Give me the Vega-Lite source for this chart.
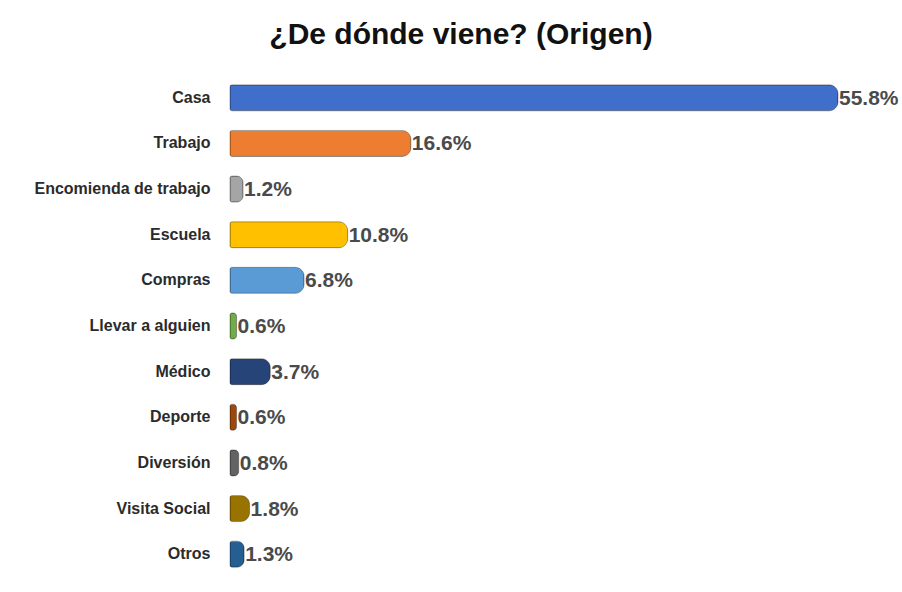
{
  "$schema": "https://vega.github.io/schema/vega-lite/v6.json",
  "width": 608,
  "height": 502,
  "autosize": {"type": "none"},
  "padding": {"left": 230, "top": 75, "right": 64, "bottom": 15},
  "background": "white",
  "config": {"view": {"stroke": null}},
  "title": {
    "text": "¿De dónde viene? (Origen)",
    "font": "Liberation Sans",
    "fontSize": 30,
    "fontWeight": "bold",
    "color": "#111111",
    "anchor": "middle",
    "dx": -73,
    "offset": 25
  },
  "data": {
    "values": [
      {"origen": "Casa", "pct": 0.558},
      {"origen": "Trabajo", "pct": 0.166},
      {"origen": "Encomienda de trabajo", "pct": 0.012},
      {"origen": "Escuela", "pct": 0.108},
      {"origen": "Compras", "pct": 0.068},
      {"origen": "Llevar a alguien", "pct": 0.006},
      {"origen": "Médico", "pct": 0.037},
      {"origen": "Deporte", "pct": 0.006},
      {"origen": "Diversión", "pct": 0.008},
      {"origen": "Visita Social", "pct": 0.018},
      {"origen": "Otros", "pct": 0.013}
    ]
  },
  "encoding": {
    "y": {
      "field": "origen",
      "type": "nominal",
      "sort": null,
      "scale": {"paddingInner": 0.43, "paddingOuter": 0.215},
      "axis": {
        "title": null,
        "ticks": false,
        "domain": false,
        "labelPadding": 20,
        "labelFont": "Liberation Sans",
        "labelFontSize": 16,
        "labelFontWeight": "bold",
        "labelColor": "#2b2b2b"
      }
    },
    "x": {
      "field": "pct",
      "type": "quantitative",
      "scale": {"domain": [0, 0.558], "nice": false},
      "axis": null
    }
  },
  "layer": [
    {
      "mark": {
        "type": "bar",
        "cornerRadiusTopRight": 9,
        "cornerRadiusBottomRight": 9,
        "cornerRadiusTopLeft": 2,
        "cornerRadiusBottomLeft": 2,
        "stroke": "black",
        "strokeOpacity": 0.3,
        "strokeWidth": 1
      },
      "encoding": {
        "color": {
          "field": "origen",
          "type": "nominal",
          "legend": null,
          "scale": {
            "domain": ["Casa", "Trabajo", "Encomienda de trabajo", "Escuela", "Compras", "Llevar a alguien", "Médico", "Deporte", "Diversión", "Visita Social", "Otros"],
            "range": ["#3F6FCB", "#ED7D31", "#A5A5A5", "#FFC000", "#5B9BD5", "#70AD47", "#264478", "#9E480E", "#636363", "#997300", "#255E91"]
          }
        }
      }
    },
    {
      "mark": {
        "type": "text",
        "align": "left",
        "baseline": "middle",
        "dx": 1,
        "dy": 1,
        "font": "Liberation Sans",
        "fontSize": 21,
        "fontWeight": "bold",
        "color": "#4a4a4a"
      },
      "encoding": {
        "text": {"field": "pct", "type": "quantitative", "format": ".1%"}
      }
    }
  ]
}
